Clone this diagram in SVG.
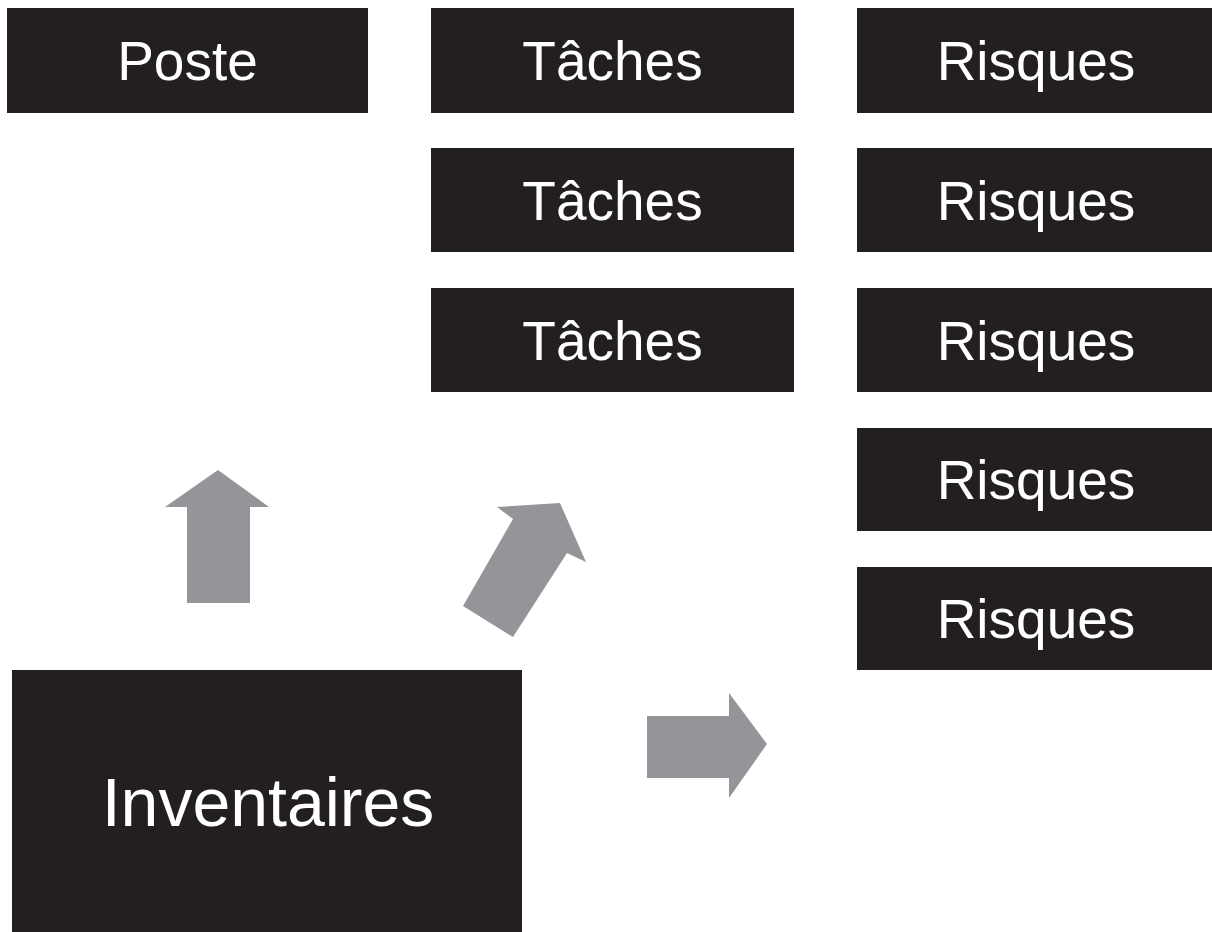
<svg xmlns="http://www.w3.org/2000/svg" width="1212" height="932" viewBox="0 0 1212 932">
<style>
.box{fill:#231f20}
.lbl{fill:#ffffff;font-family:"Liberation Sans",Arial,sans-serif;font-size:55px;text-anchor:middle}
.big{font-size:68px}
.arr{fill:#939598}
</style>
<rect width="1212" height="932" fill="#ffffff"/>
<g id="poste"><rect class="box" x="7" y="8" width="361" height="105"/><text class="lbl" x="187.5" y="80">Poste</text></g>
<g id="taches1"><rect class="box" x="431" y="8" width="363" height="105"/><text class="lbl" x="612.5" y="80">Tâches</text></g>
<g id="taches2"><rect class="box" x="431" y="148" width="363" height="104"/><text class="lbl" x="612.5" y="220">Tâches</text></g>
<g id="taches3"><rect class="box" x="431" y="288" width="363" height="104"/><text class="lbl" x="612.5" y="360">Tâches</text></g>
<g id="risques1"><rect class="box" x="857" y="8" width="355" height="105"/><text class="lbl" x="1036" y="80">Risques</text></g>
<g id="risques2"><rect class="box" x="857" y="148" width="355" height="104"/><text class="lbl" x="1036" y="220">Risques</text></g>
<g id="risques3"><rect class="box" x="857" y="288" width="355" height="104"/><text class="lbl" x="1036" y="360">Risques</text></g>
<g id="risques4"><rect class="box" x="857" y="428" width="355" height="103"/><text class="lbl" x="1036" y="499">Risques</text></g>
<g id="risques5"><rect class="box" x="857" y="567" width="355" height="103"/><text class="lbl" x="1036" y="638">Risques</text></g>
<g id="inventaires"><rect class="box" x="12" y="670" width="510" height="262"/><text class="lbl big" x="268" y="826">Inventaires</text></g>
<g id="connectors">
<polygon class="arr" points="218,470 269,507 250,507 250,603 187,603 187,507 165,507"/>
<polygon class="arr" points="497,507 560,503 586,562 567,553 513,637 463,606 513,519"/>
<polygon class="arr" points="647,716 729,716 729,693 767,744 729,798 729,778 647,778"/>
</g>
</svg>
